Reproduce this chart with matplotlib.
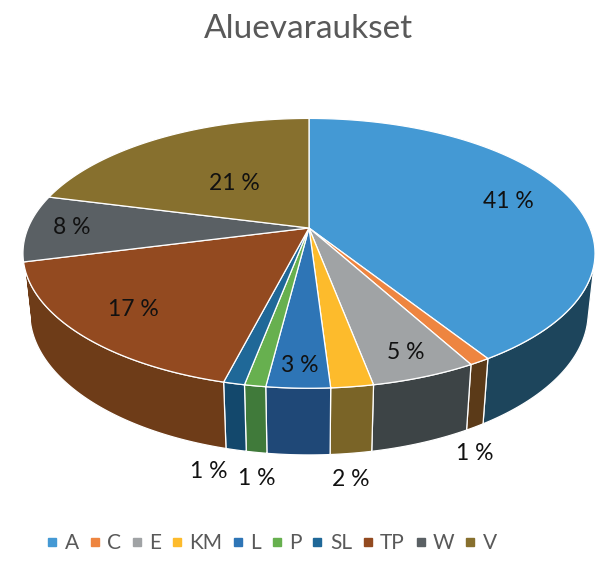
import numpy as np
import matplotlib
matplotlib.use('Agg')
import matplotlib.pyplot as plt
from matplotlib.patches import Polygon
from matplotlib.lines import Line2D

plt.rcParams['font.family'] = ['Lato', 'DejaVu Sans']

# data (percent of total area)
categories = ['A', 'C', 'E', 'KM', 'L', 'P', 'SL', 'TP', 'W', 'V']
shares = [41, 1, 5, 2, 3, 1, 1, 17, 8, 21]
title = 'Aluevaraukset'

# styling
top_colors = ['#4499D4', '#EE8540', '#A0A3A5', '#FDBB2C', '#2E75B6',
              '#67B04F', '#1F6898', '#934A20', '#5A6064', '#87702E']
wall_colors = ['#1D455C', '#5B3A18', '#3D4446', '#7A6427', '#1F4877',
               '#407A3A', '#13486C', '#6E3C18', '#33383A', '#564620']
# label radius on the top face; None -> label goes outside under the wall
label_r = [0.77, None, 0.86, None, 0.88, None, None, 0.79, 0.845, 0.46]
label_nudge = [0, 0, 0, 0, 0, 0, 5, 0, 0, 0]   # degrees, outside labels only

# simple perspective camera (pixel units)
ELEV = np.radians(27.6)
DIST = 4.72
FOCAL = 1326.0
THICK = 0.239
CX, CY = 309, 228


def project(x, y, z):
    c, s = np.cos(ELEV), np.sin(ELEV)
    depth = DIST + y * c - z * s
    return CX + FOCAL * x / depth, CY - FOCAL * (y * s + z * c) / depth


def arc(t1, t2, z=0.0, r=1.0, n=80):
    t = np.linspace(t1, t2, n)
    u, v = project(r * np.sin(t), r * np.cos(t), z)
    return np.column_stack([u, v])


fig = plt.figure(figsize=(6.05, 5.76), dpi=100)
ax = fig.add_axes([0, 0, 1, 1])
ax.set_xlim(0, 605)
ax.set_ylim(576, 0)
ax.axis('off')

vals = np.array(shares, dtype=float)
edges = np.concatenate([[0], np.cumsum(vals)]) / vals.sum() * 2 * np.pi

# visible part of the outer wall
lim = np.arccos(-1.0 / (DIST * np.cos(ELEV)))
sil_lo, sil_hi = lim, 2 * np.pi - lim

for i in range(len(vals)):
    lo, hi = max(edges[i], sil_lo), min(edges[i + 1], sil_hi)
    if lo >= hi:
        continue
    pts = np.vstack([arc(lo, hi, 0.0), arc(hi, lo, -THICK)])
    ax.add_patch(Polygon(pts, closed=True, fc=wall_colors[i], ec='white',
                         lw=0.9, joinstyle='round'))

for i in range(len(vals)):
    ctr = np.array([project(0, 0, 0)])
    pts = np.vstack([ctr, arc(edges[i], edges[i + 1], 0.0)])
    ax.add_patch(Polygon(pts, closed=True, fc=top_colors[i], ec='white',
                         lw=0.9, joinstyle='round'))

for i, v in enumerate(shares):
    mid = (edges[i] + edges[i + 1]) / 2
    txt = f'{v} %'
    if label_r[i] is not None:
        r = label_r[i]
        u, w = project(r * np.sin(mid), r * np.cos(mid), 0.0)
        ax.text(u, w, txt, ha='center', va='center', fontsize=16.5, color='#111111')
    else:
        m = mid + np.radians(label_nudge[i])
        u, w = project(np.sin(m), np.cos(m), -THICK)
        ax.annotate(txt, (u, w), xytext=(0, -19), textcoords='offset points',
                    ha='center', va='center', fontsize=16.5, color='#111111')

ax.text(308, 38, title, ha='center', va='baseline', fontsize=24, color='#595959')

handles = [Line2D([], [], ls='', marker='s', markersize=5.5, color=c, mec=c)
           for c in top_colors]
fig.legend(handles, categories, loc='center', bbox_to_anchor=(272 / 605, 1 - 543 / 576),
           ncol=len(categories), frameon=False, fontsize=15, handlelength=0.5,
           handletextpad=0.35, columnspacing=0.5, labelcolor='#595959')

fig.savefig('out.png', dpi=100)
